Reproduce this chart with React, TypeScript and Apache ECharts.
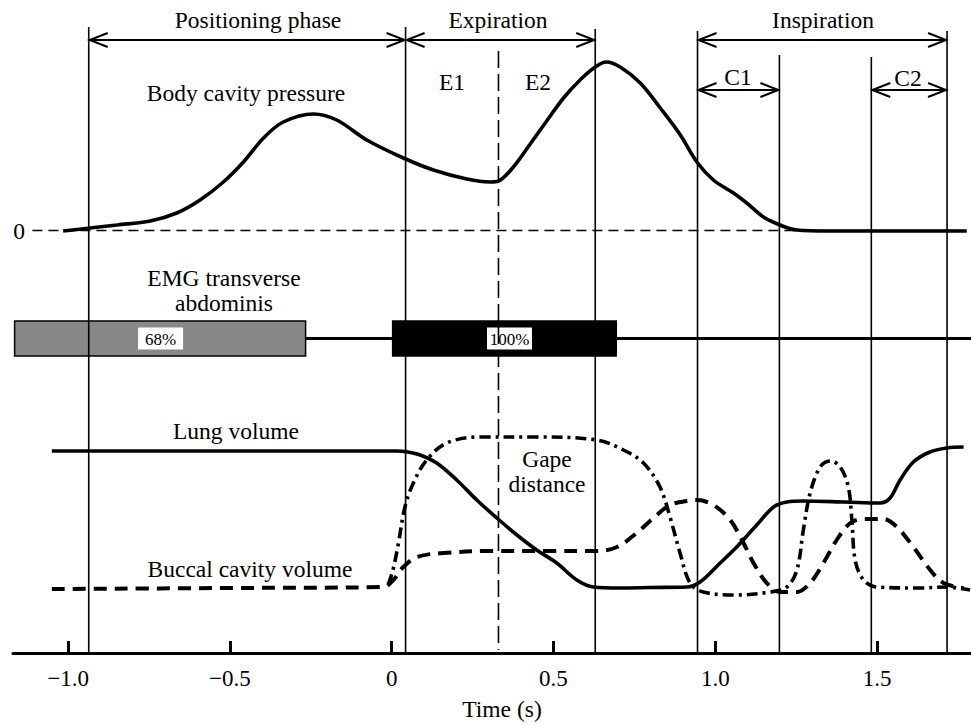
import React, { useEffect, useRef } from "react";
import * as echarts from "echarts";

// ---- axis ----
const X_MIN = -1.17;
const X_MAX = 1.79;
const Y_MAX = 653; // arbitrary vertical units (trace heights above the time axis)
const tickValues = [-1, -0.5, 0, 0.5, 1, 1.5];
const tickLabels = ["\u22121.0", "\u22120.5", "0", "0.5", "1.0", "1.5"];

// ---- traces: [time (s), level (arbitrary units)] ----
const bodyCavityPressure: [number, number][] = [
  [-1.015, 422], [-0.932, 425], [-0.849, 428], [-0.746, 432], [-0.664, 440],
  [-0.592, 453], [-0.52, 471], [-0.458, 491], [-0.396, 515], [-0.335, 531],
  [-0.242, 539], [-0.17, 533], [-0.077, 513], [0.036, 495], [0.129, 483],
  [0.232, 474], [0.304, 471], [0.33, 472], [0.376, 486], [0.428, 509],
  [0.479, 532], [0.531, 555], [0.582, 573], [0.629, 586], [0.663, 591],
  [0.706, 586], [0.768, 570], [0.83, 545], [0.892, 518], [0.943, 491],
  [0.994, 473], [1.056, 460], [1.097, 450], [1.149, 436], [1.2, 428],
  [1.252, 423], [1.35, 422], [1.447, 422], [1.6, 422], [1.777, 422],
];
const pressureZero = 422.5;

const lungVolume: [number, number][] = [
  [-1.05, 202], [-0.5, 202], [-0.1, 202], [0.016, 202], [0.05, 201],
  [0.088, 198], [0.139, 190], [0.201, 173], [0.263, 153], [0.325, 135],
  [0.387, 118], [0.448, 103], [0.51, 90], [0.572, 73], [0.623, 66],
  [0.706, 65], [0.8, 65.5], [0.912, 66], [0.953, 71], [1.015, 90],
  [1.066, 106], [1.128, 128], [1.18, 146], [1.221, 151], [1.272, 152],
  [1.4, 151], [1.509, 150], [1.54, 155], [1.571, 173], [1.612, 191],
  [1.663, 201], [1.715, 205], [1.767, 206],
];

const buccalCavityVolume: [number, number][] = [
  [-1.05, 64], [-0.5, 65], [-0.026, 66], [0.005, 73], [0.036, 86],
  [0.078, 96], [0.16, 100], [0.304, 102], [0.5, 102], [0.634, 102],
  [0.696, 106], [0.757, 120], [0.809, 135], [0.86, 148], [0.912, 152],
  [0.943, 153], [0.994, 148], [1.046, 133], [1.087, 110], [1.118, 90],
  [1.159, 70], [1.2, 61], [1.252, 61], [1.293, 70], [1.334, 90],
  [1.375, 113], [1.417, 130], [1.458, 134], [1.519, 134], [1.561, 126],
  [1.612, 106], [1.664, 83], [1.705, 70], [1.767, 65],
];

const gapeDistance: [number, number][] = [
  [-0.011, 68], [0.004, 83], [0.021, 110], [0.041, 146], [0.067, 170],
  [0.108, 193], [0.17, 210], [0.273, 216], [0.448, 216], [0.634, 213],
  [0.716, 203], [0.778, 190], [0.829, 166], [0.86, 136], [0.891, 100],
  [0.922, 70], [0.963, 61], [1.066, 58], [1.169, 61], [1.221, 66],
  [1.252, 83], [1.272, 123], [1.293, 160], [1.324, 186], [1.355, 192],
  [1.386, 186], [1.411, 166], [1.422, 133], [1.432, 93], [1.458, 73],
  [1.499, 66], [1.633, 65], [1.715, 66], [1.787, 63],
];

// ---- EMG transverse abdominis ----
const emgLevel = 314.5;
const emgStarts = [-1.165, 0.003];
const emgEnds = [-0.266, 0.694];
const emgLabels = ["68%", "100%"];
const emgLabelTimes = [-0.714, 0.364];
const emgBaselineEnd = 1.79;

// ---- phase markers ----
const phaseLineTimes = [-0.936, 0.043, 0.629, 0.945, 1.198, 1.482, 1.716];
const phaseLineTops = [626, 626, 624, 622, 598, 596, 622];
const splitTime = 0.33;
const splitTop = 602;
// [start, end, level]
const phaseArrows: [number, number, number][] = [
  [-0.936, 0.043, 613], // Positioning phase
  [0.043, 0.629, 613], // Expiration
  [0.945, 1.716, 613], // Inspiration
  [0.945, 1.198, 563], // C1
  [1.482, 1.716, 563], // C2
];

const SERIF = "'Liberation Serif', 'DejaVu Serif', serif";

function text(str: string, x: number, y: number, size = 23.5) {
  return {
    type: "text",
    x,
    y,
    silent: true,
    style: {
      text: str,
      fill: "#000",
      font: `${size}px ${SERIF}`,
      textAlign: "center",
      textVerticalAlign: "middle",
    },
    z: 50,
  };
}

export default function App() {
  const ref = useRef<HTMLDivElement>(null);

  useEffect(() => {
    if (!ref.current) return;
    const chart = echarts.init(ref.current, undefined, { renderer: "svg" });

    const curveBase = {
      type: "line",
      showSymbol: false,
      symbol: "none",
      smooth: 0.35,
      silent: true,
      z: 10,
    };

    const option: any = {
      animation: false,
      backgroundColor: "#fff",
      grid: { left: 13, right: 0, top: 0, height: Y_MAX, containLabel: false },
      xAxis: {
        type: "value",
        min: X_MIN,
        max: X_MAX,
        axisLine: { show: true, onZero: false, lineStyle: { color: "#000", width: 3 } },
        axisTick: {
          show: true,
          inside: true,
          length: 12,
          customValues: tickValues,
          lineStyle: { color: "#000", width: 3 },
        },
        axisLabel: {
          show: true,
          customValues: tickValues,
          margin: 14,
          color: "#000",
          fontSize: 23,
          fontFamily: SERIF,
          formatter: (v: number) => {
            const i = tickValues.findIndex((t) => Math.abs(t - v) < 1e-6);
            return i >= 0 ? tickLabels[i] : "";
          },
        },
        splitLine: { show: false },
      },
      yAxis: { type: "value", min: 0, max: Y_MAX, show: false },
      series: [
        // EMG baseline
        {
          type: "line",
          showSymbol: false,
          symbol: "none",
          silent: true,
          data: [[emgEnds[0], emgLevel], [emgBaselineEnd, emgLevel]],
          lineStyle: { color: "#000", width: 3 },
          z: 2,
        },
        // EMG bursts
        {
          type: "custom",
          silent: true,
          z: 3,
          data: emgStarts.map((s, i) => [s, emgEnds[i], emgLevel, i, emgLabelTimes[i]]),
          renderItem: (params: any, api: any) => {
            const a = api.coord([api.value(0), api.value(2)]);
            const b = api.coord([api.value(1), api.value(2)]);
            const idx = api.value(3);
            const lab = api.coord([api.value(4), api.value(2)]);
            const h = 35;
            const fill = idx === 0 ? "#888888" : "#000000";
            return {
              type: "group",
              children: [
                {
                  type: "rect",
                  shape: { x: a[0], y: a[1] - h / 2, width: b[0] - a[0], height: h },
                  style: { fill, stroke: "#000", lineWidth: 1.5 },
                },
                {
                  type: "rect",
                  shape: { x: lab[0] - 22.5, y: lab[1] - 11, width: 45, height: 22 },
                  style: { fill: "#fff", stroke: "none" },
                },
                {
                  type: "text",
                  x: lab[0],
                  y: lab[1] + 1,
                  style: {
                    text: emgLabels[idx],
                    fill: "#000",
                    font: `17px ${SERIF}`,
                    textAlign: "center",
                    textVerticalAlign: "middle",
                  },
                },
              ],
            };
          },
        },
        // phase boundary lines
        {
          type: "custom",
          silent: true,
          z: 5,
          data: phaseLineTimes.map((t, i) => [t, phaseLineTops[i]]),
          renderItem: (params: any, api: any) => {
            const top = api.coord([api.value(0), api.value(1)]);
            const bot = api.coord([api.value(0), 0]);
            return {
              type: "line",
              shape: { x1: top[0], y1: top[1], x2: bot[0], y2: bot[1] },
              style: { stroke: "#000", lineWidth: 1.6 },
            };
          },
        },
        // E1 / E2 split (dashed)
        {
          type: "custom",
          silent: true,
          z: 5,
          data: [[splitTime, splitTop]],
          renderItem: (params: any, api: any) => {
            const top = api.coord([api.value(0), api.value(1)]);
            const bot = api.coord([api.value(0), 3]);
            return {
              type: "line",
              shape: { x1: top[0], y1: top[1], x2: bot[0], y2: bot[1] },
              style: { stroke: "#000", lineWidth: 1.6, lineDash: [17, 6] },
            };
          },
        },
        // double-headed arrows
        {
          type: "custom",
          silent: true,
          z: 6,
          data: phaseArrows,
          renderItem: (params: any, api: any) => {
            const p1 = api.coord([api.value(0), api.value(2)]);
            const p2 = api.coord([api.value(1), api.value(2)]);
            const ax = 19;
            const ay = 7;
            const st = { stroke: "#000", lineWidth: 2, fill: "none" };
            return {
              type: "group",
              children: [
                { type: "line", shape: { x1: p1[0], y1: p1[1], x2: p2[0], y2: p2[1] }, style: st },
                {
                  type: "polyline",
                  shape: { points: [[p1[0] + ax, p1[1] - ay], [p1[0] + 1, p1[1]], [p1[0] + ax, p1[1] + ay]] },
                  style: st,
                },
                {
                  type: "polyline",
                  shape: { points: [[p2[0] - ax, p2[1] - ay], [p2[0] - 1, p2[1]], [p2[0] - ax, p2[1] + ay]] },
                  style: st,
                },
              ],
            };
          },
        },
        // pressure zero line
        {
          type: "line",
          showSymbol: false,
          symbol: "none",
          silent: true,
          z: 4,
          data: [[-1.11, pressureZero], [1.75, pressureZero]],
          lineStyle: { color: "#000", width: 1.6, type: [10, 6] },
        },
        {
          ...curveBase,
          name: "Body cavity pressure",
          data: bodyCavityPressure,
          lineStyle: { color: "#000", width: 3.6 },
        },
        {
          ...curveBase,
          name: "Lung volume",
          data: lungVolume,
          lineStyle: { color: "#000", width: 3.6 },
        },
        {
          ...curveBase,
          name: "Buccal cavity volume",
          data: buccalCavityVolume,
          lineStyle: { color: "#000", width: 4, type: [13, 8], cap: "butt" },
        },
        {
          ...curveBase,
          name: "Gape distance",
          data: gapeDistance,
          lineStyle: { color: "#000", width: 3.6, type: [11, 5, 3, 5], cap: "butt" },
        },
      ],
      graphic: [
        text("Positioning phase", 258, 20),
        text("Expiration", 498, 20),
        text("Inspiration", 823, 20),
        text("E1", 452, 82),
        text("E2", 538, 82),
        text("C1", 738, 77),
        text("C2", 908, 78),
        text("Body cavity pressure", 246, 93),
        text("0", 19, 231),
        text("EMG transverse", 224, 278),
        text("abdominis", 224, 303),
        text("Lung volume", 236, 431),
        text("Buccal cavity volume", 250, 569),
        text("Gape", 547, 459),
        text("distance", 547, 484),
        text("Time (s)", 502, 709),
      ],
    };

    chart.setOption(option);
    return () => chart.dispose();
  }, []);

  return (
    <div
      ref={ref}
      style={{ position: "fixed", left: 0, top: 0, width: 971, height: 725, background: "#fff" }}
    />
  );
}
